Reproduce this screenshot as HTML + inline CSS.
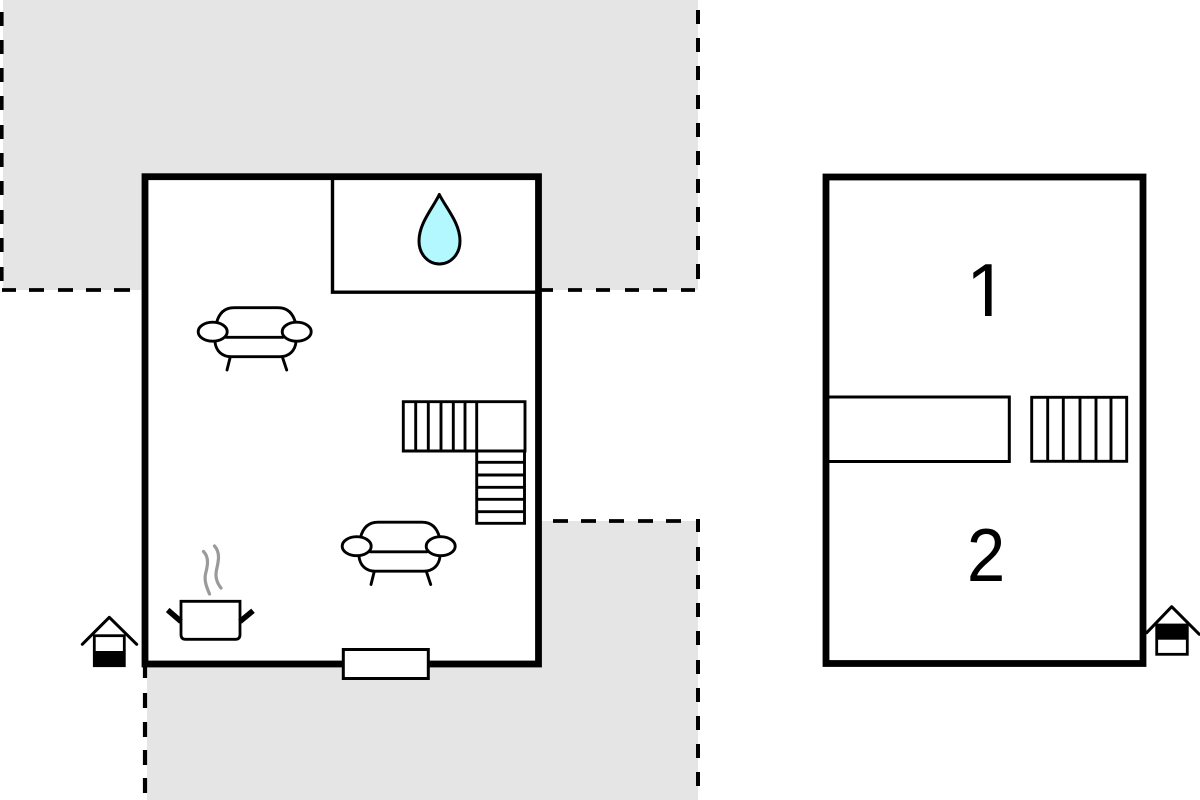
<!DOCTYPE html>
<html lang="en">
<head>
<meta charset="utf-8">
<title>Floor plan</title>
<style>
html,body{margin:0;padding:0;background:#fff;width:1200px;height:800px;overflow:hidden}
svg{display:block}
text{font-family:"Liberation Sans",sans-serif;fill:#000}
</style>
</head>
<body>
<svg width="1200" height="800" viewBox="0 0 1200 800" xmlns="http://www.w3.org/2000/svg">
<defs>
<g id="sofa" fill="#fff" stroke="#000" stroke-width="2.9" stroke-linecap="round" stroke-linejoin="round">
<path d="M216.5 323C219 313 225 307.7 234 307.7H278C287 307.7 293 313 295.5 323" fill="none"/>
<path d="M215 342C216 351 222 356.7 231 356.7H280C289 356.7 295 351 296 342" fill="none"/>
<path d="M226 337.3H283" fill="none"/>
<ellipse cx="212.7" cy="331.7" rx="14.5" ry="9.5"/>
<ellipse cx="296.7" cy="331.7" rx="14.5" ry="9.5"/>
<path d="M230 358L227 370M282.7 358L286.7 370" fill="none"/>
</g>
</defs>

<!-- terraces -->
<rect x="3" y="0" width="695" height="290" fill="#e5e5e5"/>
<rect x="147" y="521" width="551" height="279" fill="#e5e5e5"/>

<!-- dashed outlines -->
<g stroke="#000" fill="none">
<path d="M2 290H16M29 290H44M58 290H73M86 290H101M114 290H130" stroke-width="3.8"/>
<path d="M540 290H553M568 290H582M596 290H610M625 290H639M653 290H667M681 290H695" stroke-width="3.8"/>
<path d="M553 521H568M581 521H596M609 521H624M638 521H653M666 521H681" stroke-width="3.8"/>
<path d="M698 10V24M698 38V52M698 66V80M698 95V109M698 123V137M698 151V165M698 179V193M698 207V222M698 236V250M698 264V279" stroke-width="4"/>
<path d="M1.5 12V26M1.5 40V54M1.5 68V82M1.5 96V110M1.5 125V139M1.5 153V167M1.5 181V195M1.5 210V224M1.5 238V252M1.5 267V281" stroke-width="4.2"/>
<path d="M698 519V532M698 547V561M698 575V589M698 603V617M698 631V645M698 660V674M698 688V702M698 716V730M698 744V758M698 772V786" stroke-width="4"/>
<path d="M145 666V678M145 693V708M145 722V737M145 750V765M145 778V793" stroke-width="4.2"/>
</g>

<!-- main building -->
<rect x="145" y="176.7" width="393.5" height="487.3" fill="#fff" stroke="#000" stroke-width="6.8"/>
<path d="M332.5 177V292.2H536" fill="none" stroke="#000" stroke-width="3.4"/>
<path d="M439.3 194.5C433 208 419 223 419 241C419 255 429 264 439.3 264C450 264 460 255 460 241C460 223 446 208 439.3 194.5Z" fill="#b3f8ff" stroke="#000" stroke-width="3" stroke-linejoin="round"/>

<use href="#sofa"/>
<use href="#sofa" transform="translate(144 214.5)"/>

<!-- stairs ground floor -->
<g fill="#fff" stroke="#000" stroke-width="2.9">
<path d="M403.3 401.7H525V451H403.3Z"/>
<path d="M476.7 451H524.5V523.3H476.7Z"/>
<path d="M415.7 401.7V451M428.3 401.7V451M441 401.7V451M453.3 401.7V451M465 401.7V451M476.7 401.7V451" fill="none"/>
<path d="M476.7 462.3H524.5M476.7 475H524.5M476.7 487.3H524.5M476.7 499.3H524.5M476.7 511.7H524.5" fill="none"/>
</g>

<!-- window -->
<rect x="343.3" y="649.5" width="85" height="29" fill="#fff" stroke="#000" stroke-width="3"/>

<!-- pot -->
<g fill="none" stroke="#000">
<path d="M181 601.3H240V634.5Q240 639.3 235.5 639.3H185.5Q181 639.3 181 634.5Z" fill="#fff" stroke-width="2.8"/>
<path d="M167.7 610L181 621.5M253 610.7L240 621.5" stroke-width="5.5"/>
</g>
<g fill="none" stroke="#9a9a9a" stroke-width="3.2" stroke-linecap="round">
<path d="M203.5 551.5C210 558 207 568 205.5 574C204 581 207 588 209.5 594"/>
<path d="M214.5 546C221 553 218 563 216.5 570C215 577 217 583 221 588"/>
</g>

<!-- entrance ground -->
<path d="M82.3 644.3L109.3 617.3L136.7 644.3" fill="none" stroke="#000" stroke-width="3" stroke-linecap="round" stroke-linejoin="round"/>
<rect x="94.3" y="635.7" width="30" height="30" fill="#fff" stroke="#000" stroke-width="2.8"/>
<rect x="94" y="651" width="30.6" height="15" fill="#000"/>

<!-- upper floor -->
<rect x="826" y="177" width="317" height="486.5" fill="#fff" stroke="#000" stroke-width="6.8"/>
<path d="M828 397H1009.3V461.5H828" fill="none" stroke="#000" stroke-width="3"/>
<g fill="none" stroke="#000" stroke-width="2.9">
<rect x="1031.7" y="397.3" width="95" height="64"/>
<path d="M1047.7 397.3V461.3M1063.3 397.3V461.3M1080 397.3V461.3M1096 397.3V461.3M1111 397.3V461.3"/>
</g>
<text x="987" y="316" font-size="75" text-anchor="middle">1</text>
<rect x="962" y="310" width="23" height="7" fill="#fff"/>
<rect x="991.6" y="310" width="20" height="7" fill="#fff"/>
<text transform="translate(986 581) scale(.92 1)" font-size="75" text-anchor="middle">2</text>

<!-- entrance upper -->
<path d="M1146.7 632.7L1171.7 606.7L1199.3 634.3" fill="none" stroke="#000" stroke-width="3" stroke-linecap="round" stroke-linejoin="round"/>
<rect x="1156.7" y="625" width="30.6" height="29.3" fill="#fff" stroke="#000" stroke-width="2.8"/>
<rect x="1156.4" y="625" width="31.2" height="14.7" fill="#000"/>
</svg>
</body>
</html>
